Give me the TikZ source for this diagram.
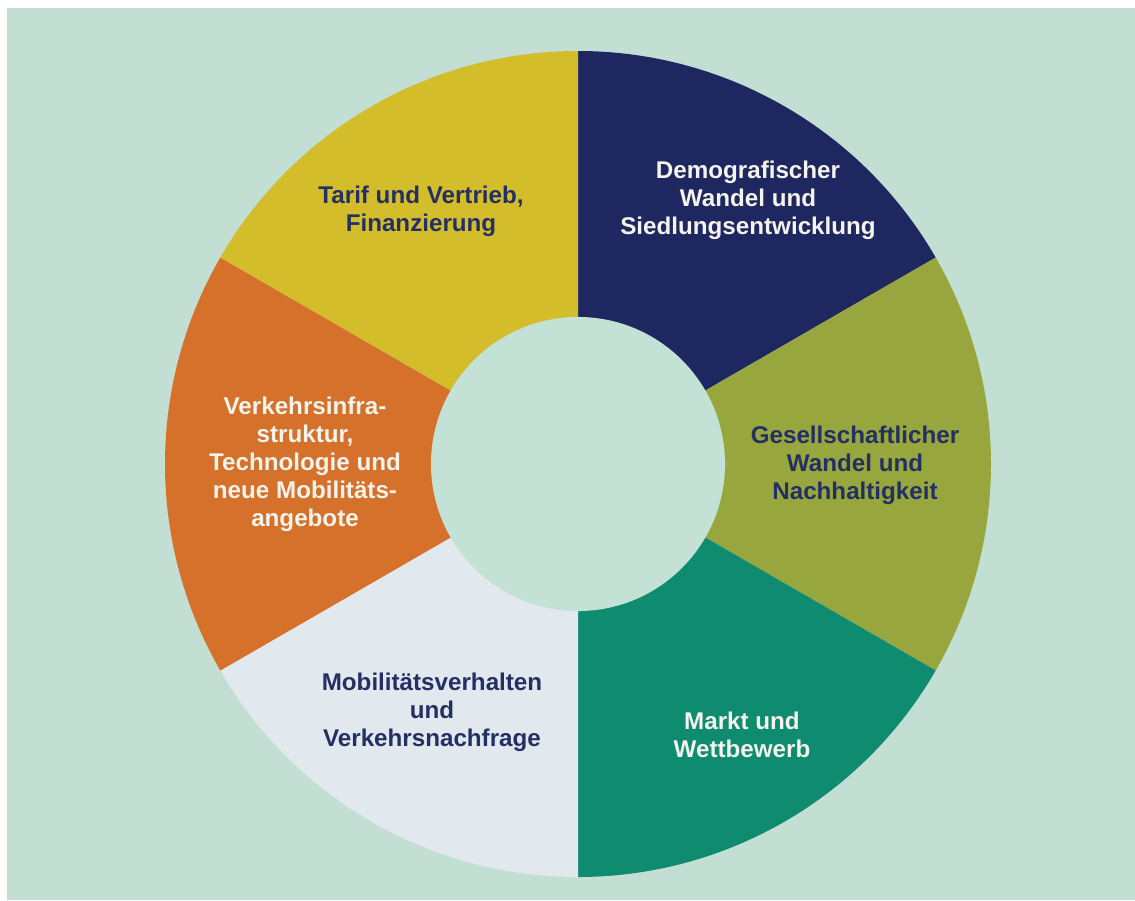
\documentclass[tikz,border=0pt]{standalone}
\usepackage{fontspec}
\setmainfont{Liberation Sans}
\usepackage{tikz}
\usetikzlibrary{positioning}
\definecolor{bgmint}{HTML}{C3DFD4}
\definecolor{hubmint}{HTML}{C3E1D5}
\definecolor{segnavy}{HTML}{1E2760}
\definecolor{segolive}{HTML}{97A63D}
\definecolor{segteal}{HTML}{0F8B70}
\definecolor{seglight}{HTML}{E1E8EE}
\definecolor{segorange}{HTML}{D6712B}
\definecolor{segyellow}{HTML}{D4BD2A}
\definecolor{txtnavy}{HTML}{243063}
\definecolor{txtwhite}{HTML}{F4F3EC}
\tikzset{
  ringlabel/.style = {align=center, inner sep=0pt, text centered,
    font=\bfseries\fontsize{17.2}{19.9}\selectfont},
  lbl_d/.style = {ringlabel, text=txtnavy},% dunkle Schrift
  lbl_w/.style = {ringlabel, text=txtwhite},% helle Schrift
  hub/.style = {circle, fill=hubmint, inner sep=0pt, minimum size=7.35cm}
}

\begin{document}
\begin{tikzpicture}[x=0.025cm, y=0.025cm]
\fill[white] (0,0) rectangle (1135,-900);
\fill[bgmint] (7,-8) rectangle (1135,-900);
\coordinate (c) at (578,-464);
% sechs Segmente
\foreach \a/\col in {90/segnavy, 30/segolive, -30/segteal,
  -90/seglight, -150/segorange, 150/segyellow}
  \fill[\col] (c) -- ++(\a:413) arc[start angle=\a, end angle=\a-60,
    radius=413] -- cycle;
\node [hub] (ctr) at (c) {};
% Beschriftungen
\node [lbl_w] (demo) at (748,-200) {Demografischer\\Wandel und\\Siedlungsentwicklung};
\node [lbl_d] (gesell) at (855,-465) {Gesellschaftlicher\\Wandel und\\Nachhaltigkeit};
\node [lbl_w] (markt) at (742,-735) {Markt und\\Wettbewerb};
\node [lbl_d] (mobil) at (432,-712) {Mobilitätsverhalten\\und\\Verkehrsnachfrage};
\node [lbl_w] (infra) at (305,-464) {Verkehrsinfra-\\struktur,\\Technologie und\\neue Mobilitäts-\\angebote};
\node [lbl_d] (tarif) at (421,-211) {Tarif und Vertrieb,\\Finanzierung};
\end{tikzpicture}
\end{document}
